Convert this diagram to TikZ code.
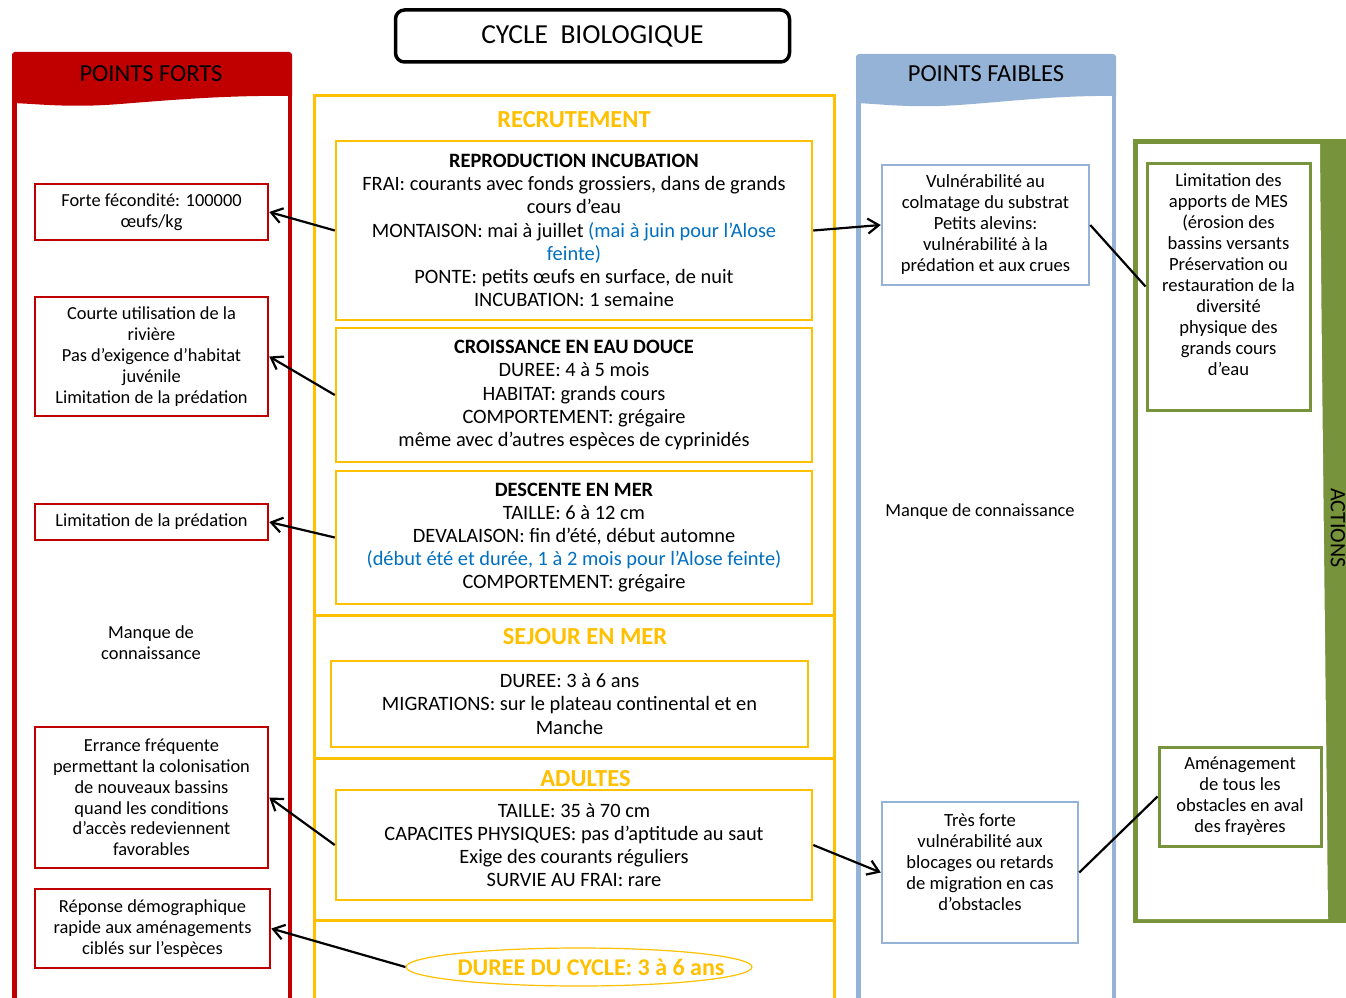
\documentclass[tikz,border=0pt]{standalone}
\usepackage{fontspec}
\setmainfont{Carlito}
\usetikzlibrary{arrows.meta,shapes.geometric}
\definecolor{redc}{HTML}{C00000}
\definecolor{yelc}{HTML}{FFC000}
\definecolor{bluec}{HTML}{95B3D7}
\definecolor{greenc}{HTML}{77933C}
\definecolor{textblue}{HTML}{0070C0}
\begin{document}
\begin{tikzpicture}[x=1pt,y=-1pt,
  titlebox/.style={draw=black,rounded corners=9pt,line width=3.5pt,minimum width=394pt,minimum height=52pt,inner sep=0pt,font=\fontsize{27.5}{31}\selectfont},
  headtxt/.style={font=\fontsize{24.5}{28}\selectfont,text=black},
  yelhead/.style={font=\bfseries\fontsize{24.5}{28}\selectfont,text=yelc},
  midbox/.style={draw=yelc,line width=2.5pt,minimum width=476pt,inner sep=0pt,align=center,font=\fontsize{20.4}{23.2}\selectfont},
  fortbox/.style={draw=redc,line width=2.5pt,inner sep=0pt,align=center,font=\fontsize{18.4}{20.8}\selectfont},
  faibbox/.style={draw=bluec,line width=2.5pt,inner sep=0pt,align=center,font=\fontsize{18.6}{21}\selectfont},
  actbox/.style={draw=greenc,line width=3pt,inner sep=0pt,align=center,font=\fontsize{18.6}{21}\selectfont},
  plaintxt/.style={align=center,font=\fontsize{18.4}{21}\selectfont},
  arr/.style={line width=2.2pt,-{Straight Barb[length=11pt,width=15pt,line width=2.2pt]}},
  link/.style={line width=2.2pt}
]
\useasboundingbox (0,0) rectangle (1346,998);
\fill[white] (0,0) rectangle (1346,998);

% title
\node[titlebox] (title) at (592.5,36) {CYCLE\ \ BIOLOGIQUE};

% POINTS FORTS panel
\fill[redc] (12,104) -- (12,55) [rounded corners=3pt] -- (12,52) -- (292,52) [sharp corners] -- (292,96)
  .. controls (230,95) and (170,100) .. (120,104) .. controls (70,108) and (40,104) .. (12,103) -- cycle;
\draw[redc,line width=4.5pt] (14.25,1002) -- (14.25,54) (289.75,54) -- (289.75,1002);
\node[headtxt] (pfort) at (151,74) {POINTS FORTS};

% POINTS FAIBLES panel
\fill[bluec] (856,104) -- (856,57) [rounded corners=3pt] -- (856,54) -- (1116,54) [sharp corners] -- (1116,96)
  .. controls (1050,95) and (990,104) .. (940,106) .. controls (900,107) and (880,104) .. (856,103) -- cycle;
\draw[bluec,line width=4.5pt] (858.25,1002) -- (858.25,56) (1113.75,56) -- (1113.75,1002);
\node[headtxt] (pfaib) at (986,74) {POINTS FAIBLES};

% ACTIONS panel
\fill[greenc] (1133,139) rectangle (1346,923);
\fill[white] (1138,144) -- (1320,144) .. controls (1322,400) and (1326,700) .. (1328,919) -- (1138,919) -- cycle;
\node[headtxt,rotate=-90,font=\fontsize{22}{26}\selectfont] (act) at (1338,528) {ACTIONS};

% yellow column
\draw[yelc,line width=3pt] (314.5,1002) -- (314.5,95.5) -- (834.5,95.5) -- (834.5,1002);
\draw[yelc,line width=3pt] (313,615.5) -- (836,615.5) (313,758.5) -- (836,758.5) (313,920.5) -- (836,920.5);
\node[yelhead] (recr) at (574,120) {RECRUTEMENT};
\node[yelhead] (sej) at (585,637) {SEJOUR EN MER};
\node[yelhead] (adu) at (585.5,779) {ADULTES};

\node[midbox,minimum height=179pt] (b1) at (574,230.5) {\textbf{REPRODUCTION INCUBATION}\\
FRAI: courants avec fonds grossiers, dans de grands\\
cours d’eau\\
MONTAISON: mai à juillet \textcolor{textblue}{(mai à juin pour l’Alose}\\
\textcolor{textblue}{feinte)}\\
PONTE: petits œufs en surface, de nuit\\
INCUBATION: 1 semaine};

\node[midbox,minimum height=134pt] (b2) at (574,395) {\textbf{CROISSANCE EN EAU DOUCE}\\
DUREE: 4 à 5 mois\\
HABITAT: grands cours\\
COMPORTEMENT: grégaire\\
même avec d’autres espèces de cyprinidés};

\node[midbox,minimum height=133pt] (b3) at (574,537.5) {\textbf{DESCENTE EN MER}\\
TAILLE: 6 à 12 cm\\
DEVALAISON: fin d’été, début automne\\
\textcolor{textblue}{(début été et durée, 1 à 2 mois pour l’Alose feinte)}\\
COMPORTEMENT: grégaire};

\node[midbox,minimum width=477pt,minimum height=86pt] (b4) at (569.5,704) {DUREE: 3 à 6 ans\\
MIGRATIONS: sur le plateau continental et en\\
Manche};

\node[midbox,minimum height=110pt] (b5) at (574,845) {TAILLE: 35 à 70 cm\\
CAPACITES PHYSIQUES: pas d’aptitude au saut\\
Exige des courants réguliers\\
SURVIE AU FRAI: rare};

\node[ellipse,draw=yelc,line width=1.2pt,minimum width=346pt,minimum height=38pt,inner sep=0pt,
  font=\bfseries\fontsize{24}{28}\selectfont,text=yelc] (cyc) at (579,967) {\makebox[0pt][c]{\hspace*{24pt}DUREE DU CYCLE: 3 à 6 ans}};

% points forts boxes
\node[fortbox,minimum width=233pt,minimum height=56pt] (f1) at (151.5,212) {Forte fécondité: 100000\\œufs/kg};
\node[fortbox,minimum width=233pt,minimum height=119pt] (f2) at (151.5,356.5) {Courte utilisation de la\\rivière\\Pas d’exigence d’habitat\\juvénile\\Limitation de la prédation};
\node[fortbox,minimum width=233pt,minimum height=36pt] (f3) at (151.5,522) {Limitation de la prédation};
\node[plaintxt] (f4) at (151,643) {Manque de\\connaissance};
\node[fortbox,minimum width=233pt,minimum height=141pt] (f5) at (151.5,797.5) {Errance fréquente\\permettant la colonisation\\de nouveaux bassins\\quand les conditions\\d’accès redeviennent\\favorables};
\node[fortbox,minimum width=235pt,minimum height=79pt] (f6) at (152.5,928.5) {Réponse démographique\\rapide aux aménagements\\ciblés sur l’espèces};

% points faibles boxes
\node[faibbox,minimum width=207pt,minimum height=120pt] (r1) at (985.5,225) {Vulnérabilité au\\colmatage du substrat\\Petits alevins:\\vulnérabilité à la\\prédation et aux crues};
\node[plaintxt] (r2) at (980,512) {Manque de connaissance};
\node[faibbox,minimum width=196pt,minimum height=141pt] (r3) at (980,872.5) {Très forte\\vulnérabilité aux\\blocages ou retards\\de migration en cas\\d’obstacles\\[-1pt]~};

% actions boxes
\node[actbox,minimum width=163pt,minimum height=247pt] (g1) at (1228.5,286.5) {Limitation des\\apports de MES\\(érosion des\\bassins versants\\Préservation ou\\restauration de la\\diversité\\physique des\\grands cours\\d’eau\\[3pt]~};
\node[actbox,minimum width=162pt,minimum height=99pt] (g2) at (1240,796.5) {Aménagement\\de tous les\\obstacles en aval\\des frayères};

% connectors
\draw[arr] (b1.west) -- (f1.east);
\draw[arr] (b2.west) -- (f2.east);
\draw[arr] (b3.west) -- (f3.east);
\draw[arr] (b5.west) -- (f5.east);
\draw[arr] (cyc.west) -- (f6.east);
\draw[arr] (b1.east) -- (r1.west);
\draw[arr] (b5.east) -- (r3.west);
\draw[link] (r1.east) -- (g1.west);
\draw[link] (r3.east) -- (g2.west);
\end{tikzpicture}
\end{document}
